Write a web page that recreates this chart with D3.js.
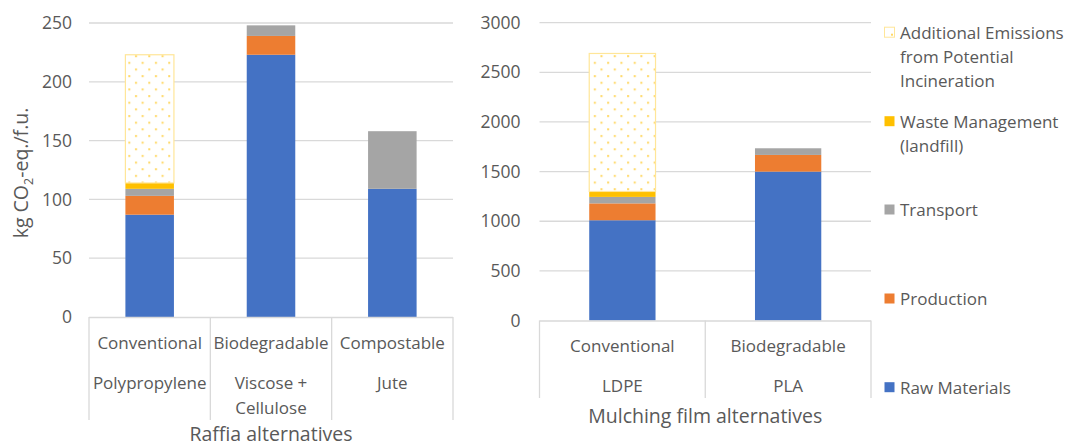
<!DOCTYPE html>
<html>
<head>
<meta charset="utf-8">
<script src="https://cdn.jsdelivr.net/npm/d3@7"></script>
<style>
  body { margin: 0; background: #fff; }
  text { font-family: "Open Sans", "Noto Sans", sans-serif; fill: #595959; }
</style>
</head>
<body>
<div id="chart-area"></div>
<script>
// stages (stack order bottom -> top)
var stages = ["raw", "prod", "transport", "waste", "incin"];
var stageColors = ["#4472C4", "#ED7D31", "#A5A5A5", "#FFC000", "url(#dots)"];
var legendLabels = [
    ["Raw Materials"],
    ["Production"],
    ["Transport"],
    ["Waste Management", "(landfill)"],
    ["Additional Emissions", "from Potential", "Incineration"]
];

// raffia
var raffiaTypes = ["Conventional", "Biodegradable", "Compostable"];
var raffiaMaterials = [["Polypropylene"], ["Viscose +", "Cellulose"], ["Jute"]];
var raffiaRaw = [87, 223, 109];
var raffiaProd = [16, 16, 0];
var raffiaTransport = [6, 9, 49];
var raffiaWaste = [5, 0, 0];
var raffiaIncin = [109, 0, 0];
var raffiaTicks = [0, 50, 100, 150, 200, 250];

// mulching film
var mulchTypes = ["Conventional", "Biodegradable"];
var mulchMaterials = [["LDPE"], ["PLA"]];
var mulchRaw = [1010, 1500];
var mulchProd = [170, 168];
var mulchTransport = [65, 67];
var mulchWaste = [55, 0];
var mulchIncin = [1390, 0];
var mulchTicks = [0, 500, 1000, 1500, 2000, 2500, 3000];

var svg = d3.select("#chart-area").append("svg")
    .attr("width", 1071)
    .attr("height", 448);

var defs = svg.append("defs");
var pat = defs.append("pattern")
    .attr("id", "dots")
    .attr("patternUnits", "userSpaceOnUse")
    .attr("width", 13.3)
    .attr("height", 13.3);
pat.append("rect").attr("width", 13.3).attr("height", 13.3).attr("fill", "#fff");
pat.append("rect").attr("x", 2).attr("y", 2).attr("width", 2).attr("height", 2).attr("fill", "#FFD966");
pat.append("rect").attr("x", 8.65).attr("y", 8.65).attr("width", 2).attr("height", 2).attr("fill", "#FFD966");

function rowsFrom(types, raw, prod, transport, waste, incin) {
    return types.map((t, i) => ({
        key: i, raw: raw[i], prod: prod[i], transport: transport[i], waste: waste[i], incin: incin[i]
    }));
}

function drawChart(opt) {
    var g = svg.append("g");
    var x = d3.scaleBand()
        .domain(opt.rows.map(d => d.key))
        .range([opt.x0, opt.x1])
        .paddingInner(0.6)
        .paddingOuter(0.3);
    var xEdge = d3.scaleLinear().domain([0, opt.rows.length]).range([opt.x0, opt.x1]);
    var y = d3.scaleLinear().domain([0, opt.ymax]).range([opt.y0, opt.y1]);

    // gridlines
    g.selectAll(".grid").data(opt.ticks.slice(1)).enter().append("line")
        .attr("x1", opt.x0).attr("x2", opt.x1)
        .attr("y1", d => y(d)).attr("y2", d => y(d))
        .attr("stroke", "#D9D9D9").attr("stroke-width", 1.3);

    // y tick labels
    g.selectAll(".ytick").data(opt.ticks).enter().append("text")
        .attr("x", opt.x0 - opt.tickGap)
        .attr("y", d => y(d))
        .attr("dy", "0.35em")
        .attr("text-anchor", "end")
        .style("font-size", "17.5px")
        .text(d => d);

    // stacked bars
    var series = d3.stack().keys(stages)(opt.rows);
    series.forEach((s, si) => {
        g.selectAll(".bar" + si).data(s.filter(d => d[1] > d[0])).enter().append("rect")
            .attr("x", d => x(d.data.key))
            .attr("width", x.bandwidth())
            .attr("y", d => y(d[1]))
            .attr("height", d => y(d[0]) - y(d[1]))
            .attr("fill", stageColors[si])
            .attr("stroke", si == 4 ? "#FFE699" : "none")
            .attr("stroke-width", si == 4 ? 1.2 : 0);
    });

    // category axis lines
    var edges = d3.range(opt.rows.length + 1);
    g.append("line")
        .attr("x1", opt.x0).attr("x2", opt.x1)
        .attr("y1", opt.y0 + 0.5).attr("y2", opt.y0 + 0.5)
        .attr("stroke", "#D9D9D9").attr("stroke-width", 1.3);
    g.selectAll(".sep").data(edges).enter().append("line")
        .attr("x1", d => xEdge(d)).attr("x2", d => xEdge(d))
        .attr("y1", opt.y0).attr("y2", opt.sepEnd)
        .attr("stroke", "#D9D9D9").attr("stroke-width", 1.3);

    // category labels
    g.selectAll(".type").data(opt.types).enter().append("text")
        .attr("x", (d, i) => x(i) + x.bandwidth() / 2)
        .attr("y", opt.typeY)
        .attr("dy", "0.35em")
        .attr("text-anchor", "middle")
        .style("font-size", "17px")
        .text(d => d);
    opt.materials.forEach((lines, i) => {
        lines.forEach((l, j) => {
            g.append("text")
                .attr("x", x(i) + x.bandwidth() / 2)
                .attr("y", opt.matY + j * 25)
                .attr("dy", "0.35em")
                .attr("text-anchor", "middle")
                .style("font-size", "17px")
                .text(l);
        });
    });

    g.append("text")
        .attr("x", (opt.x0 + opt.x1) / 2)
        .attr("y", opt.titleY)
        .attr("dy", "0.35em")
        .attr("text-anchor", "middle")
        .style("font-size", "19.5px")
        .text(opt.title);
}

drawChart({
    rows: rowsFrom(raffiaTypes, raffiaRaw, raffiaProd, raffiaTransport, raffiaWaste, raffiaIncin),
    types: raffiaTypes, materials: raffiaMaterials, ticks: raffiaTicks, ymax: 250,
    x0: 89, x1: 453, y0: 317, y1: 23, sepEnd: 420, tickGap: 17,
    typeY: 343, matY: 383, titleY: 434.5, title: "Raffia alternatives"
});

drawChart({
    rows: rowsFrom(mulchTypes, mulchRaw, mulchProd, mulchTransport, mulchWaste, mulchIncin),
    types: mulchTypes, materials: mulchMaterials, ticks: mulchTicks, ymax: 3000,
    x0: 539.5, x1: 871, y0: 320.5, y1: 22.7, sepEnd: 398, tickGap: 19,
    typeY: 346, matY: 386, titleY: 416, title: "Mulching film alternatives"
});

// y axis title
var yt = svg.append("text")
    .attr("transform", "translate(28,173) rotate(-90)")
    .attr("text-anchor", "middle")
    .style("font-size", "19.5px");
yt.append("tspan").text("kg CO");
yt.append("tspan").attr("dy", "5").style("font-size", "12.5px").text("2");
yt.append("tspan").attr("dy", "-5").text("-eq./f.u.");

// legend
var legendY = [387.7, 299, 210, 121.7, 32.7];
var leg = svg.append("g");
legendLabels.forEach((lines, i) => {
    leg.append("rect")
        .attr("x", 884.5).attr("y", legendY[i] - 5.5)
        .attr("width", 10).attr("height", 10)
        .attr("fill", i == 4 ? "#fff" : stageColors[i])
        .attr("stroke", i == 4 ? "#FFE699" : "none");
    if (i == 4) {
        leg.append("rect").attr("x", 891).attr("y", legendY[i] + 1)
            .attr("width", 2).attr("height", 2).attr("fill", "#FFD966");
    }
    lines.forEach((l, j) => {
        leg.append("text")
            .attr("x", 900)
            .attr("y", legendY[i] + j * 24.3)
            .attr("dy", "0.35em")
            .style("font-size", "17px")
            .text(l);
    });
});
</script>
</body>
</html>
